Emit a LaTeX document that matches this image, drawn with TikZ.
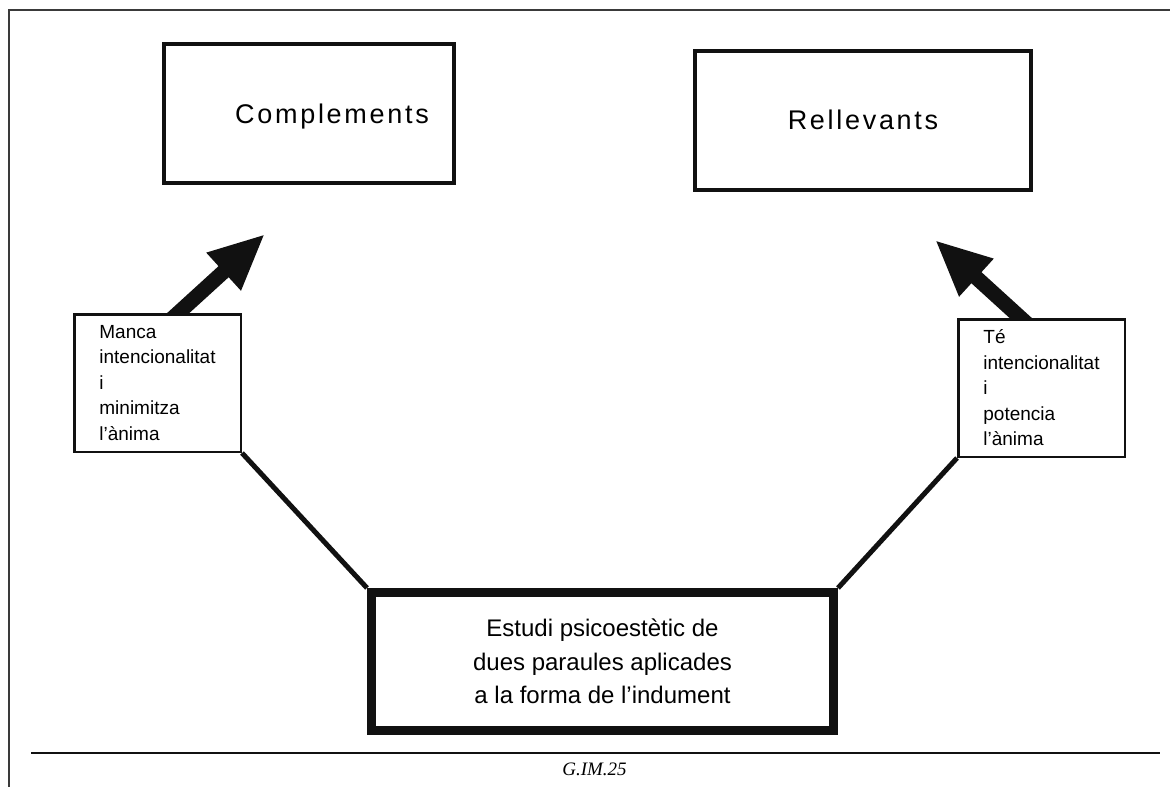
\documentclass[tikz,border=0pt]{standalone}
\usepackage{fontspec}
\setmainfont{Liberation Sans}
\newfontfamily\gimTitleFont[LetterSpace=10]{Liberation Sans}
\newfontfamily\gimCaptionFont{Liberation Serif}
\usetikzlibrary{arrows.meta,calc,positioning,backgrounds}
\definecolor{GimInk}{HTML}{111111}
\definecolor{GimFrame}{HTML}{3A3A3A}

\begin{document}
\begin{tikzpicture}[x=1pt,y=-1pt,
    titlebox/.style={draw=GimInk,line width=4pt,minimum height=139pt,
      text depth=0pt,font=\gimTitleFont\fontsize{27}{32}\selectfont},
    notebox/.style={draw=GimInk,fill=white,line width=2.5pt,
      minimum width=166.5pt,minimum height=137.5pt,align=left,
      font=\fontsize{19}{25.5}\selectfont},
    link/.style={GimInk,line width=5pt},
    fatarrow/.style={GimInk,line width=15pt,
      -{Triangle[length=56pt,width=47pt]}}]
        \useasboundingbox (0,0) rectangle (1170,787);

        % page frame and foot rule
        \draw[GimFrame,line width=1.5pt] (9,787) -- (9,10) -- (1170,10);
        \draw[GimInk,line width=2pt] (31,753) -- (1160,753);
        \node (gim) at (594.5,769)
          {\gimCaptionFont\itshape\fontsize{19}{22}\selectfont G.IM.25};

        \node[titlebox,minimum width=290pt] (complements) at (309,113.5)
          {\hspace*{46pt}Complements};
        \node[titlebox,minimum width=336pt] (rellevants) at (863,120)
          {Rellevants};

        \node[notebox] (manca) at (157.5,383)
          {Manca\\intencionalitat\\i\\minimitza\\l'ànima};
        \node[notebox] (te) at (1041.5,388)
          {Té\\intencionalitat\\i\\potencia\\l'ànima};

        \node[draw=GimInk,line width=9pt,minimum width=462pt,
          minimum height=138pt,align=center,
          font=\fontsize{24}{33.5}\selectfont] (estudi) at (602.5,661.5)
          {Estudi psicoestètic de\\dues paraules aplicades\\a la forma de l'indument};

        \draw[link] (manca.south east) -- (estudi.north west);
        \draw[link] (te.south west) -- (estudi.north east);

        \coordinate (tipL) at (265,234);
        \coordinate (tipR) at (935,240);
        \begin{scope}[on background layer]
          \draw[fatarrow] ($(manca.north)+(12,8)$) -- (tipL);
          \draw[fatarrow] ($(te.north)+(-12,8)$) -- (tipR);
        \end{scope}
      \end{tikzpicture}
\end{document}
